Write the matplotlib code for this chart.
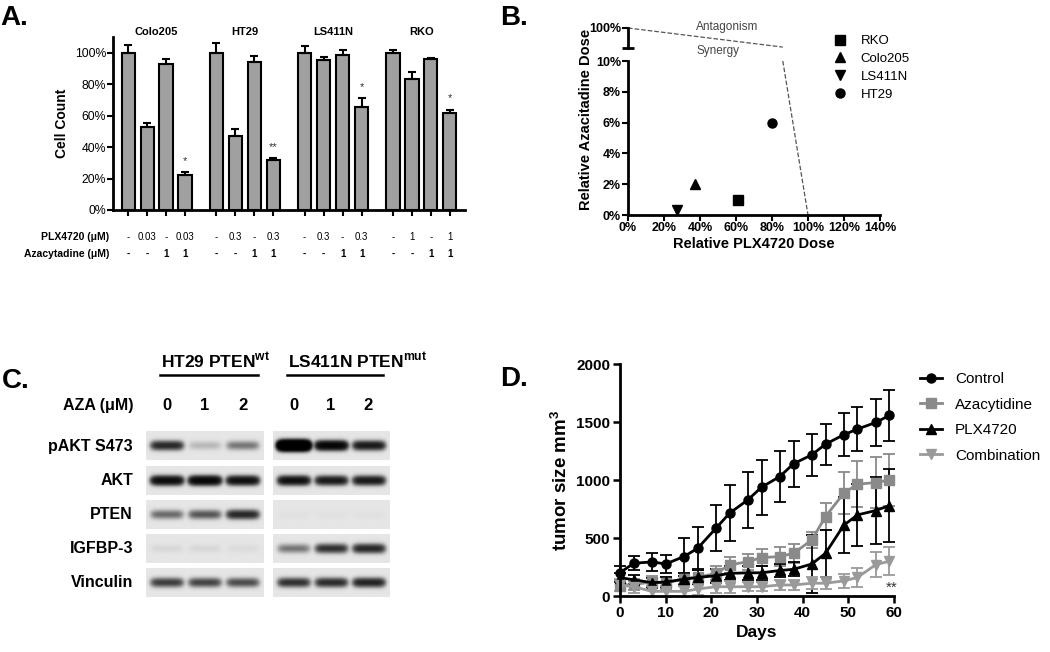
import numpy as np
import matplotlib.pyplot as plt
from matplotlib.lines import Line2D

plt.rcParams['font.family'] = ['Liberation Sans', 'DejaVu Sans']
plt.rcParams['mathtext.fontset'] = 'custom'
plt.rcParams['mathtext.rm'] = 'Liberation Sans'
plt.rcParams['mathtext.bf'] = 'Liberation Sans:bold'

# ---------------- data ----------------
# A. cell counts (% of control)
cell_lines = ['Colo205', 'HT29', 'LS411N', 'RKO']
cell_count = [[100, 53, 93, 22], [100, 47, 94, 32], [100, 95.5, 98.5, 65.5], [100, 83, 96, 61.5]]
cell_err = [[4.6, 2.5, 3.3, 2.1], [6, 4.4, 4, 0.8], [4, 2, 3.5, 5.5], [1.5, 4.7, 0.6, 2.2]]
plx_dose = [['-', '0.03', '-', '0.03'], ['-', '0.3', '-', '0.3'],
            ['-', '0.3', '-', '0.3'], ['-', '1', '-', '1']]
aza_dose = ['-', '-', '1', '1']
signif = ['*', '**', '*', '*']

# B. isobologram
b_lines = ['RKO', 'Colo205', 'LS411N', 'HT29']
b_plx = [61, 37, 27, 80]
b_aza = [1, 2, 0.3, 6]
b_markers = ['s', '^', 'v', 'o']

# C. western blot band densities
blot_rows = ['pAKT S473', 'AKT', 'PTEN', 'IGFBP-3', 'Vinculin']
aza_um = ['0', '1', '2']
ht29_bands = [[0.8, 0.1, 0.3], [1.3, 1.5, 1.2], [0.35, 0.45, 0.8], [0.03, 0.03, 0.02], [0.6, 0.55, 0.5]]
ls411n_bands = [[5.0, 1.6, 1.0], [1.2, 1.0, 1.0], [0.01, 0.01, 0.01], [0.3, 0.7, 0.8], [0.7, 0.75, 0.85]]

# D. tumour growth
days = [0, 3, 7, 10, 14, 17, 21, 24, 28, 31, 35, 38, 42, 45, 49, 52, 56, 59]
control = [201, 282, 294, 276, 340, 411, 584, 714, 829, 938, 1030, 1140, 1217, 1309, 1390, 1439, 1496, 1557]
control_err = [60, 60, 80, 80, 164, 180, 200, 244, 244, 236, 216, 198, 179, 176, 187, 190, 205, 221]
aza = [90, 100, 120, 110, 150, 160, 195, 268, 296, 331, 340, 368, 483, 685, 886, 964, 978, 1000]
aza_err = [50, 50, 50, 50, 50, 60, 60, 70, 70, 70, 80, 80, 70, 120, 180, 200, 220, 220]
plx = [158, 140, 115, 120, 145, 160, 175, 195, 200, 200, 220, 230, 276, 368, 610, 699, 737, 780]
plx_err = [40, 40, 40, 40, 50, 60, 60, 60, 60, 60, 60, 60, 250, 200, 240, 270, 290, 314]
combo = [95, 80, 40, 40, 40, 60, 80, 80, 80, 80, 95, 95, 110, 110, 130, 160, 270, 300]
combo_err = [50, 50, 50, 50, 50, 50, 50, 50, 40, 40, 40, 40, 50, 50, 60, 80, 110, 120]

W, H = 1050, 652
fig = plt.figure(figsize=(W / 100, H / 100), dpi=100)


def box(x0, y0, x1, y1):
    return [x0 / W, 1 - y1 / H, (x1 - x0) / W, (y1 - y0) / H]


def ftext(x, y, s, **kw):
    fig.text(x / W, 1 - y / H, s, **kw)


# ---------------- A ----------------
axA = fig.add_axes(box(113, 37, 465, 210))
gap = 4.65
for g, name in enumerate(cell_lines):
    xs = np.arange(4) + g * gap
    axA.bar(xs, cell_count[g], width=0.7, color='#a0a0a0', edgecolor='black', linewidth=1.5,
            yerr=[np.zeros(4), cell_err[g]], capsize=3,
            error_kw=dict(elinewidth=1.5, capthick=1.5, ecolor='black'))
    axA.text(xs.mean(), 1.03, name, transform=axA.get_xaxis_transform(), ha='center', va='center',
             fontsize=8, fontweight='bold')
    top = cell_count[g][3] + cell_err[g][3]
    axA.text(xs[3], top + 4, signif[g], ha='center', va='bottom', fontsize=8, color='#333333')
    for i in range(4):
        axA.text(xs[i], -0.156, plx_dose[g][i], transform=axA.get_xaxis_transform(),
                 ha='center', va='center', fontsize=7)
        axA.text(xs[i], -0.254, aza_dose[i], transform=axA.get_xaxis_transform(),
                 ha='center', va='center', fontsize=7, fontweight='bold')
axA.text(-0.01, -0.156, 'PLX4720 (\u03bcM)', transform=axA.transAxes, ha='right', va='center',
         fontsize=7.5, fontweight='bold')
axA.text(-0.01, -0.254, 'Azacytadine (\u03bcM)', transform=axA.transAxes, ha='right', va='center',
         fontsize=7.5, fontweight='bold')
axA.set_xlim(-0.8, 17.75)
axA.set_ylim(0, 110)
axA.set_yticks(range(0, 101, 20))
axA.set_yticklabels([f'{v}%' for v in range(0, 101, 20)], fontsize=8.8)
axA.set_xticks(np.concatenate([np.arange(4) + g * gap for g in range(4)]))
axA.set_xticklabels([])
axA.tick_params(length=4, width=1.5, pad=1)
axA.spines[['top', 'right']].set_visible(False)
axA.spines[['left', 'bottom']].set_linewidth(2)
axA.set_ylabel('Cell Count', fontsize=10, fontweight='bold', labelpad=4)

# ---------------- B ----------------
axB = fig.add_axes(box(628, 61, 880, 215))
for name, xv, yv, m in zip(b_lines, b_plx, b_aza, b_markers):
    axB.plot(xv, yv, m, color='black', markersize=6.5, label=name, clip_on=False, zorder=5)
axB.plot([86, 100], [10, 0], '--', color='#555555', lw=0.9, clip_on=False)
axB.set_xlim(0, 140)
axB.set_ylim(0, 10)
axB.set_xticks(range(0, 141, 20))
axB.set_xticklabels([f'{v}%' for v in range(0, 141, 20)], fontsize=9, fontweight='bold')
axB.set_yticks(range(0, 11, 2))
axB.set_yticklabels([f'{v}%' for v in range(0, 11, 2)], fontsize=9, fontweight='bold')
axB.tick_params(length=4, width=1.5, pad=1)
axB.spines[['top', 'right']].set_visible(False)
axB.spines[['left', 'bottom']].set_linewidth(2)
axB.set_xlabel('Relative PLX4720 Dose', fontsize=10.5, fontweight='bold', labelpad=2)
axB.set_ylabel('Relative Azacitadine Dose', fontsize=10.5, fontweight='bold', labelpad=2, y=0.62)
axB.legend(loc='upper left', bbox_to_anchor=(833 / W, 1 - 35 / H), bbox_transform=fig.transFigure,
           frameon=False, fontsize=9.5, handlelength=1, handletextpad=1.1, labelspacing=0.42,
           borderpad=0, borderaxespad=0)

axB2 = fig.add_axes(box(628, 28, 880, 48))
axB2.plot([0, 86], [100, 14], '--', color='#555555', lw=0.9, clip_on=False)
axB2.plot([0], [10], '_', color='black', markersize=8, markeredgewidth=2, clip_on=False)
axB2.set_xlim(0, 140)
axB2.set_ylim(10, 100)
axB2.set_yticks([100])
axB2.set_yticklabels(['100%'], fontsize=9, fontweight='bold')
axB2.set_xticks([])
axB2.tick_params(length=4, width=1.5, pad=1)
axB2.spines[['top', 'right', 'bottom']].set_visible(False)
axB2.spines['left'].set_linewidth(2)
axB2.patch.set_alpha(0)
axB2.text(55, 105, 'Antagonism', ha='center', va='center', fontsize=8.5, color='#444444')
axB2.text(50, -2, 'Synergy', ha='center', va='center', fontsize=8.5, color='#444444')

# ---------------- C ----------------
xs_img = np.linspace(-0.55, 2.55, 180)
ys_img = np.linspace(-0.42, 0.42, 50)
X, Y = np.meshgrid(xs_img, ys_img)


def draw_blot(ax, bands):
    for r, row in enumerate(bands):
        dens = np.zeros_like(X)
        for lane, val in enumerate(row):
            dens += val * np.exp(-((X - lane) / 0.42) ** 6) * np.exp(-(Y / 0.12) ** 2)
        img = 0.1 + 0.9 * (1 - np.exp(-2.2 * dens))
        ax.imshow(img, cmap='gray_r', vmin=0, vmax=1, aspect='auto', interpolation='bilinear',
                  extent=(-0.55, 2.55, r + 0.42, r - 0.42))
    ax.set_xlim(-0.55, 2.55)
    ax.set_ylim(4.5, -0.5)
    ax.axis('off')


axCL = fig.add_axes(box(146, 429, 264, 600))
axCR = fig.add_axes(box(273, 429, 389, 600))
draw_blot(axCL, ht29_bands)
draw_blot(axCR, ls411n_bands)
for r, name in enumerate(blot_rows):
    axCL.text(-0.11, r, name, transform=axCL.get_yaxis_transform(), ha='right', va='center',
              fontsize=11.5, fontweight='bold')
for ax, title in [(axCL, r'HT29 PTEN$^{\mathbf{wt}}$'), (axCR, r'LS411N PTEN$^{\mathbf{mut}}$')]:
    for i, lab in enumerate(aza_um):
        ax.text(i, -1.2, lab, ha='center', va='center', fontsize=12, fontweight='bold', clip_on=False)
    ax.text(-0.15, -2.5, title, ha='left', va='center', fontsize=12.5, fontweight='bold', clip_on=False)
    ax.plot([-0.18, 2.4], [-2.08, -2.08], color='black', lw=1.8, clip_on=False)
axCL.text(-0.11, -1.2, 'AZA (\u03bcM)', transform=axCL.get_yaxis_transform(), ha='right', va='center',
          fontsize=11.5, fontweight='bold')

# ---------------- D ----------------
axD = fig.add_axes(box(620, 364, 894, 596))
series = [('Control', control, control_err, 'o', 'black'),
          ('Azacytidine', aza, aza_err, 's', '#8a8a8a'),
          ('PLX4720', plx, plx_err, '^', 'black'),
          ('Combination', combo, combo_err, 'v', '#9a9a9a')]
handles = []
for name, vals, err, m, c in series:
    axD.errorbar(days, vals, yerr=err, fmt='-' + m, color=c, lw=2, markersize=6.5, capsize=4,
                 elinewidth=1.3, capthick=1.3, clip_on=False)
    handles.append(Line2D([], [], color=c, marker=m, lw=2, markersize=6.5, label=name))
axD.text(59.5, 75, '**', ha='center', va='center', fontsize=11, color='#333333')
axD.set_xlim(0, 60)
axD.set_ylim(0, 2000)
axD.set_xticks(range(0, 61, 10))
axD.set_yticks(range(0, 2001, 500))
for lab in axD.get_xticklabels() + axD.get_yticklabels():
    lab.set_fontweight('bold')
    lab.set_fontsize(11)
axD.tick_params(length=5, width=1.8, pad=2)
axD.spines[['top', 'right']].set_visible(False)
axD.spines[['left', 'bottom']].set_linewidth(2)
axD.set_xlabel('Days', fontsize=12.5, fontweight='bold', labelpad=4)
axD.set_ylabel(r'tumor size mm$^{\mathbf{3}}$', fontsize=13.5, fontweight='bold', labelpad=4)
axD.legend(handles=handles, loc='upper left', bbox_to_anchor=(920 / W, 1 - 372 / H),
           bbox_transform=fig.transFigure, frameon=False, fontsize=11, handlelength=1.45,
           handletextpad=0.85, labelspacing=0.76, borderpad=0, borderaxespad=0)

# panel letters
ftext(0, 18, 'A.', fontsize=20, fontweight='bold', va='center')
ftext(500, 18, 'B.', fontsize=20, fontweight='bold', va='center')
ftext(2, 381, 'C.', fontsize=20, fontweight='bold', va='center')
ftext(500, 379, 'D.', fontsize=20, fontweight='bold', va='center')

fig.savefig('out.png', dpi=100)
